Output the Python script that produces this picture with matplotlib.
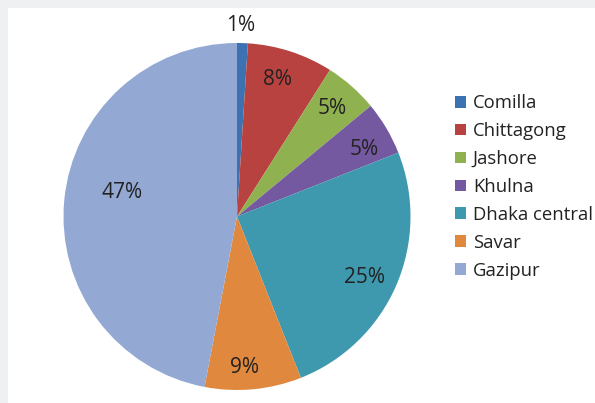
import numpy as np
import matplotlib
matplotlib.use("Agg")
import matplotlib.pyplot as plt
from matplotlib.patches import Rectangle, Patch

regions = ["Comilla", "Chittagong", "Jashore", "Khulna", "Dhaka central", "Savar", "Gazipur"]
shares = [1, 8, 5, 5, 25, 9, 47]
colors = ["#3d72b2", "#b8423f", "#8fb14f", "#7559a0", "#3e98ae", "#e0893e", "#93a9d3"]
# label placement: radial distance (fraction of radius) and angular nudge (degrees)
label_dist = [1.10, 0.825, 0.827, 0.83, 0.814, 0.874, 0.678]
label_shift = [0.6, 1.7, 0.0, -2.8, -2.3, -2.4, -6.2]

plt.rcParams["font.family"] = ["Open Sans", "DejaVu Sans"]

W, H = 595, 403
fig = plt.figure(figsize=(W / 100, H / 100), dpi=100, facecolor="#eff0f2")
fig.patches.append(Rectangle((8 / W, 0), 1, 1 - 8 / H, transform=fig.transFigure,
                             facecolor="white", edgecolor="none", zorder=-1))

cx, cy, r = 237, 216.5, 173.5
ax = fig.add_axes([(cx - r) / W, (H - cy - r) / H, 2 * r / W, 2 * r / H])
ax.set_zorder(1)
ax.set_facecolor("none")
wedges, _ = ax.pie(shares, colors=colors, startangle=90, counterclock=False,
                   radius=1, wedgeprops=dict(linewidth=0))
ax.set_xlim(-1, 1)
ax.set_ylim(-1, 1)
ax.axis("off")

for w, v, d, s in zip(wedges, shares, label_dist, label_shift):
    ang = np.deg2rad((w.theta1 + w.theta2) / 2 + s)
    ax.text(d * np.cos(ang), d * np.sin(ang), f"{v}%", ha="center", va="center",
            fontsize=15, color="#222222", clip_on=False)

handles = [Patch(facecolor=c, edgecolor="none") for c in colors]
leg = fig.legend(handles, regions, loc="upper left", bbox_to_anchor=(446 / W, 1 - 85 / H),
                 frameon=False, fontsize=13.3, handlelength=0.6, handleheight=0.6,
                 handletextpad=0.35, labelspacing=0.535, borderpad=0, labelcolor="#222222")
leg.set_zorder(2)

fig.savefig("out.png", dpi=100, facecolor=fig.get_facecolor())
